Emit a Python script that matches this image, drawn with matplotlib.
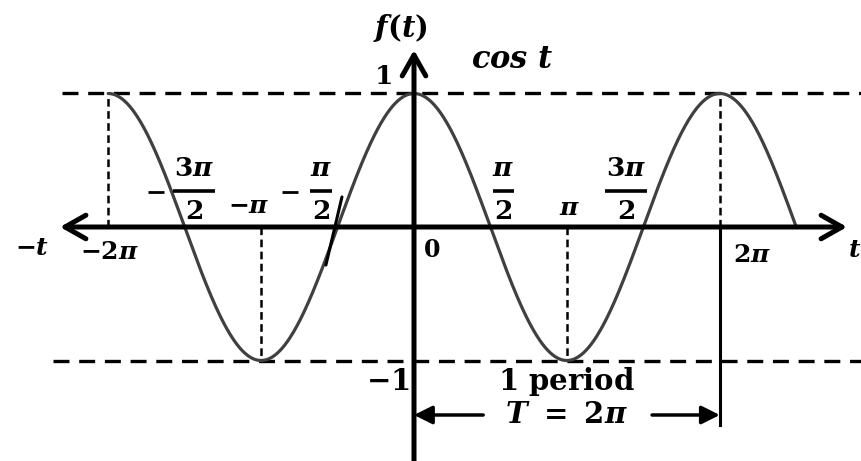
import numpy as np
import matplotlib
matplotlib.use("Agg")
import matplotlib.pyplot as plt

# ---------------- data ----------------
PI = np.pi
t_start, t_end = -2 * PI, 2.5 * PI                 # drawn span of cos t
# simple tick labels
tick_values = [-2 * PI, -PI, 0.0, PI, 2 * PI]
tick_labels = [r"$-2\pi$", r"$-\pi$", r"$0$", r"$\pi$", r"$2\pi$"]
# fraction tick labels: value, sign, numerator, denominator
frac_values = [-1.5 * PI, -0.5 * PI, 0.5 * PI, 1.5 * PI]
frac_signs = ["-", "-", "", ""]
frac_nums = [r"$3\pi$", r"$\pi$", r"$\pi$", r"$3\pi$"]
frac_dens = [r"$2$", r"$2$", r"$2$", r"$2$"]
level_values = [1, -1]
level_labels = [r"$1$", r"$-1$"]
guide_t = [-2 * PI, -PI, PI, 2 * PI]                 # dashed drop lines at extrema
period_start, period_end = 0.0, 2 * PI
tangent_t = [-1.48, -1.81]                          # short black stroke near -pi/2
tangent_y = [0.225, -0.285]

# ---------------- style ----------------
plt.rcParams.update({
    "mathtext.fontset": "custom",
    "mathtext.rm": "DejaVu Serif:bold",
    "mathtext.it": "DejaVu Serif:italic:bold",
    "mathtext.bf": "DejaVu Serif:bold",
    "mathtext.default": "it",
    "lines.scale_dashes": False,
})

W, H = 862, 461
OX, OY = 414.0, 227.0          # pixel of origin
SX, SY = 48.67, 133.5          # pixels per unit

fig = plt.figure(figsize=(W / 100, H / 100), dpi=100)
ax = fig.add_axes([0, 0, 1, 1])
ax.set_xlim(-OX / SX, (W - OX) / SX)
ax.set_ylim(-(H - OY) / SY, OY / SY)
ax.axis("off")

def X(px):
    return (px - OX) / SX

def Y(py):
    return (OY - py) / SY

# horizontal dashed levels
ax.plot([X(62), X(W + 5)], [level_values[0]] * 2, color="k", lw=2.4, dashes=(11.5, 7), zorder=2)
ax.plot([X(53), X(W + 5)], [level_values[1]] * 2, color="k", lw=2.4, dashes=(11.5, 7), zorder=2)

# vertical dashed guide lines at extrema
for g in guide_t:
    ax.plot([g, g], [0, np.cos(g)], color="k", lw=1.8, dashes=(5.5, 3.2), zorder=2)

# solid marker of the period end, below the axis
ax.plot([period_end, period_end], [0, Y(425)], color="k", lw=2.2, zorder=3)

# cos curve
t = np.linspace(t_start, t_end, 800)
ax.plot(t, np.cos(t), color="#404040", lw=2.3, zorder=4, solid_capstyle="round")
ax.plot(tangent_t, tangent_y, color="k", lw=2.2, zorder=5, solid_capstyle="round")

# axes with chevron arrows
ax.annotate("", xy=(X(847), 0), xytext=(X(60), 0),
            arrowprops=dict(arrowstyle="<->,head_length=15,head_width=8.5", lw=3.6,
                            color="k", shrinkA=0, shrinkB=0, mutation_scale=1), zorder=6)
ax.annotate("", xy=(0, Y(50)), xytext=(0, Y(H + 10)),
            arrowprops=dict(arrowstyle="->,head_length=15,head_width=8.5", lw=3.6,
                            color="k", shrinkA=0, shrinkB=0, mutation_scale=1), zorder=6)

# simple tick labels (pixel offsets from tick position on the axis; +y = up)
simple_offsets = [(1, -25), (-12, 21), (18, -23), (3, 19), (32, -28)]
simple_sizes = [18, 18, 17, 18, 18]
for v, lab, (dx, dy), fs in zip(tick_values, tick_labels, simple_offsets, simple_sizes):
    ax.text(v + dx / SX, dy / SY, lab, ha="center", va="center", fontsize=fs, zorder=7)

# fraction tick labels drawn as numerator / bar / denominator
frac_dx = [9.3, -16.6, 12.6, -17.3]        # fraction centre offset (px)
frac_half = [21, 11, 10.5, 21]             # bar half width (px)
sign_dx = [-38, -31, 0, 0]                 # sign centre relative to fraction centre (px)
for v, sg, num, den, dx, hw, sdx in zip(frac_values, frac_signs, frac_nums, frac_dens,
                                         frac_dx, frac_half, sign_dx):
    cx = v + dx / SX
    ax.text(cx, 58 / SY, num, ha="center", va="center", fontsize=19, zorder=7)
    ax.text(cx, 15 / SY, den, ha="center", va="center", fontsize=19, zorder=7)
    ax.plot([cx - hw / SX, cx + hw / SX], [35.5 / SY] * 2, color="k", lw=2.6,
            solid_capstyle="butt", zorder=7)
    if sg:
        ax.plot([cx + (sdx - 8) / SX, cx + (sdx + 8) / SX], [35 / SY] * 2, color="k",
                lw=2.0, solid_capstyle="butt", zorder=7)

# level labels
ax.text(X(383), level_values[0] + 16 / SY, level_labels[0], ha="center", va="center", fontsize=19)
ax.text(X(388), level_values[1] - 21 / SY, level_labels[1], ha="center", va="center", fontsize=21)

# axis names and title
fig.text(32 / W, 1 - 248 / H, r"$-t$", ha="center", va="center", fontsize=18)
fig.text(848 / W, 1 - 250 / H, r"$t$", ha="left", va="center", fontsize=18)
fig.text(400 / W, 1 - 28 / H, r"$f(t)$", ha="center", va="center", fontsize=21)
fig.text(512 / W, 1 - 60 / H, r"$cos\ t$", ha="center", va="center", fontsize=22)

# period annotation
mid = (period_start + period_end) / 2
ax.text(mid, Y(381), r"$\mathrm{1\ period}$", ha="center", va="center", fontsize=21)
ax.text(mid, Y(415), r"$T\ =\ 2\pi$", ha="center", va="center", fontsize=21)
ax.annotate("", xy=(period_start, Y(415)), xytext=(mid - 1.72, Y(415)),
            arrowprops=dict(arrowstyle="-|>,head_length=11,head_width=5.5", lw=2.5,
                            color="k", shrinkA=0, shrinkB=0, mutation_scale=1))
ax.annotate("", xy=(period_end, Y(415)), xytext=(mid + 1.75, Y(415)),
            arrowprops=dict(arrowstyle="-|>,head_length=11,head_width=5.5", lw=2.5,
                            color="k", shrinkA=0, shrinkB=0, mutation_scale=1))

fig.savefig("out.png", dpi=100, facecolor="white")
